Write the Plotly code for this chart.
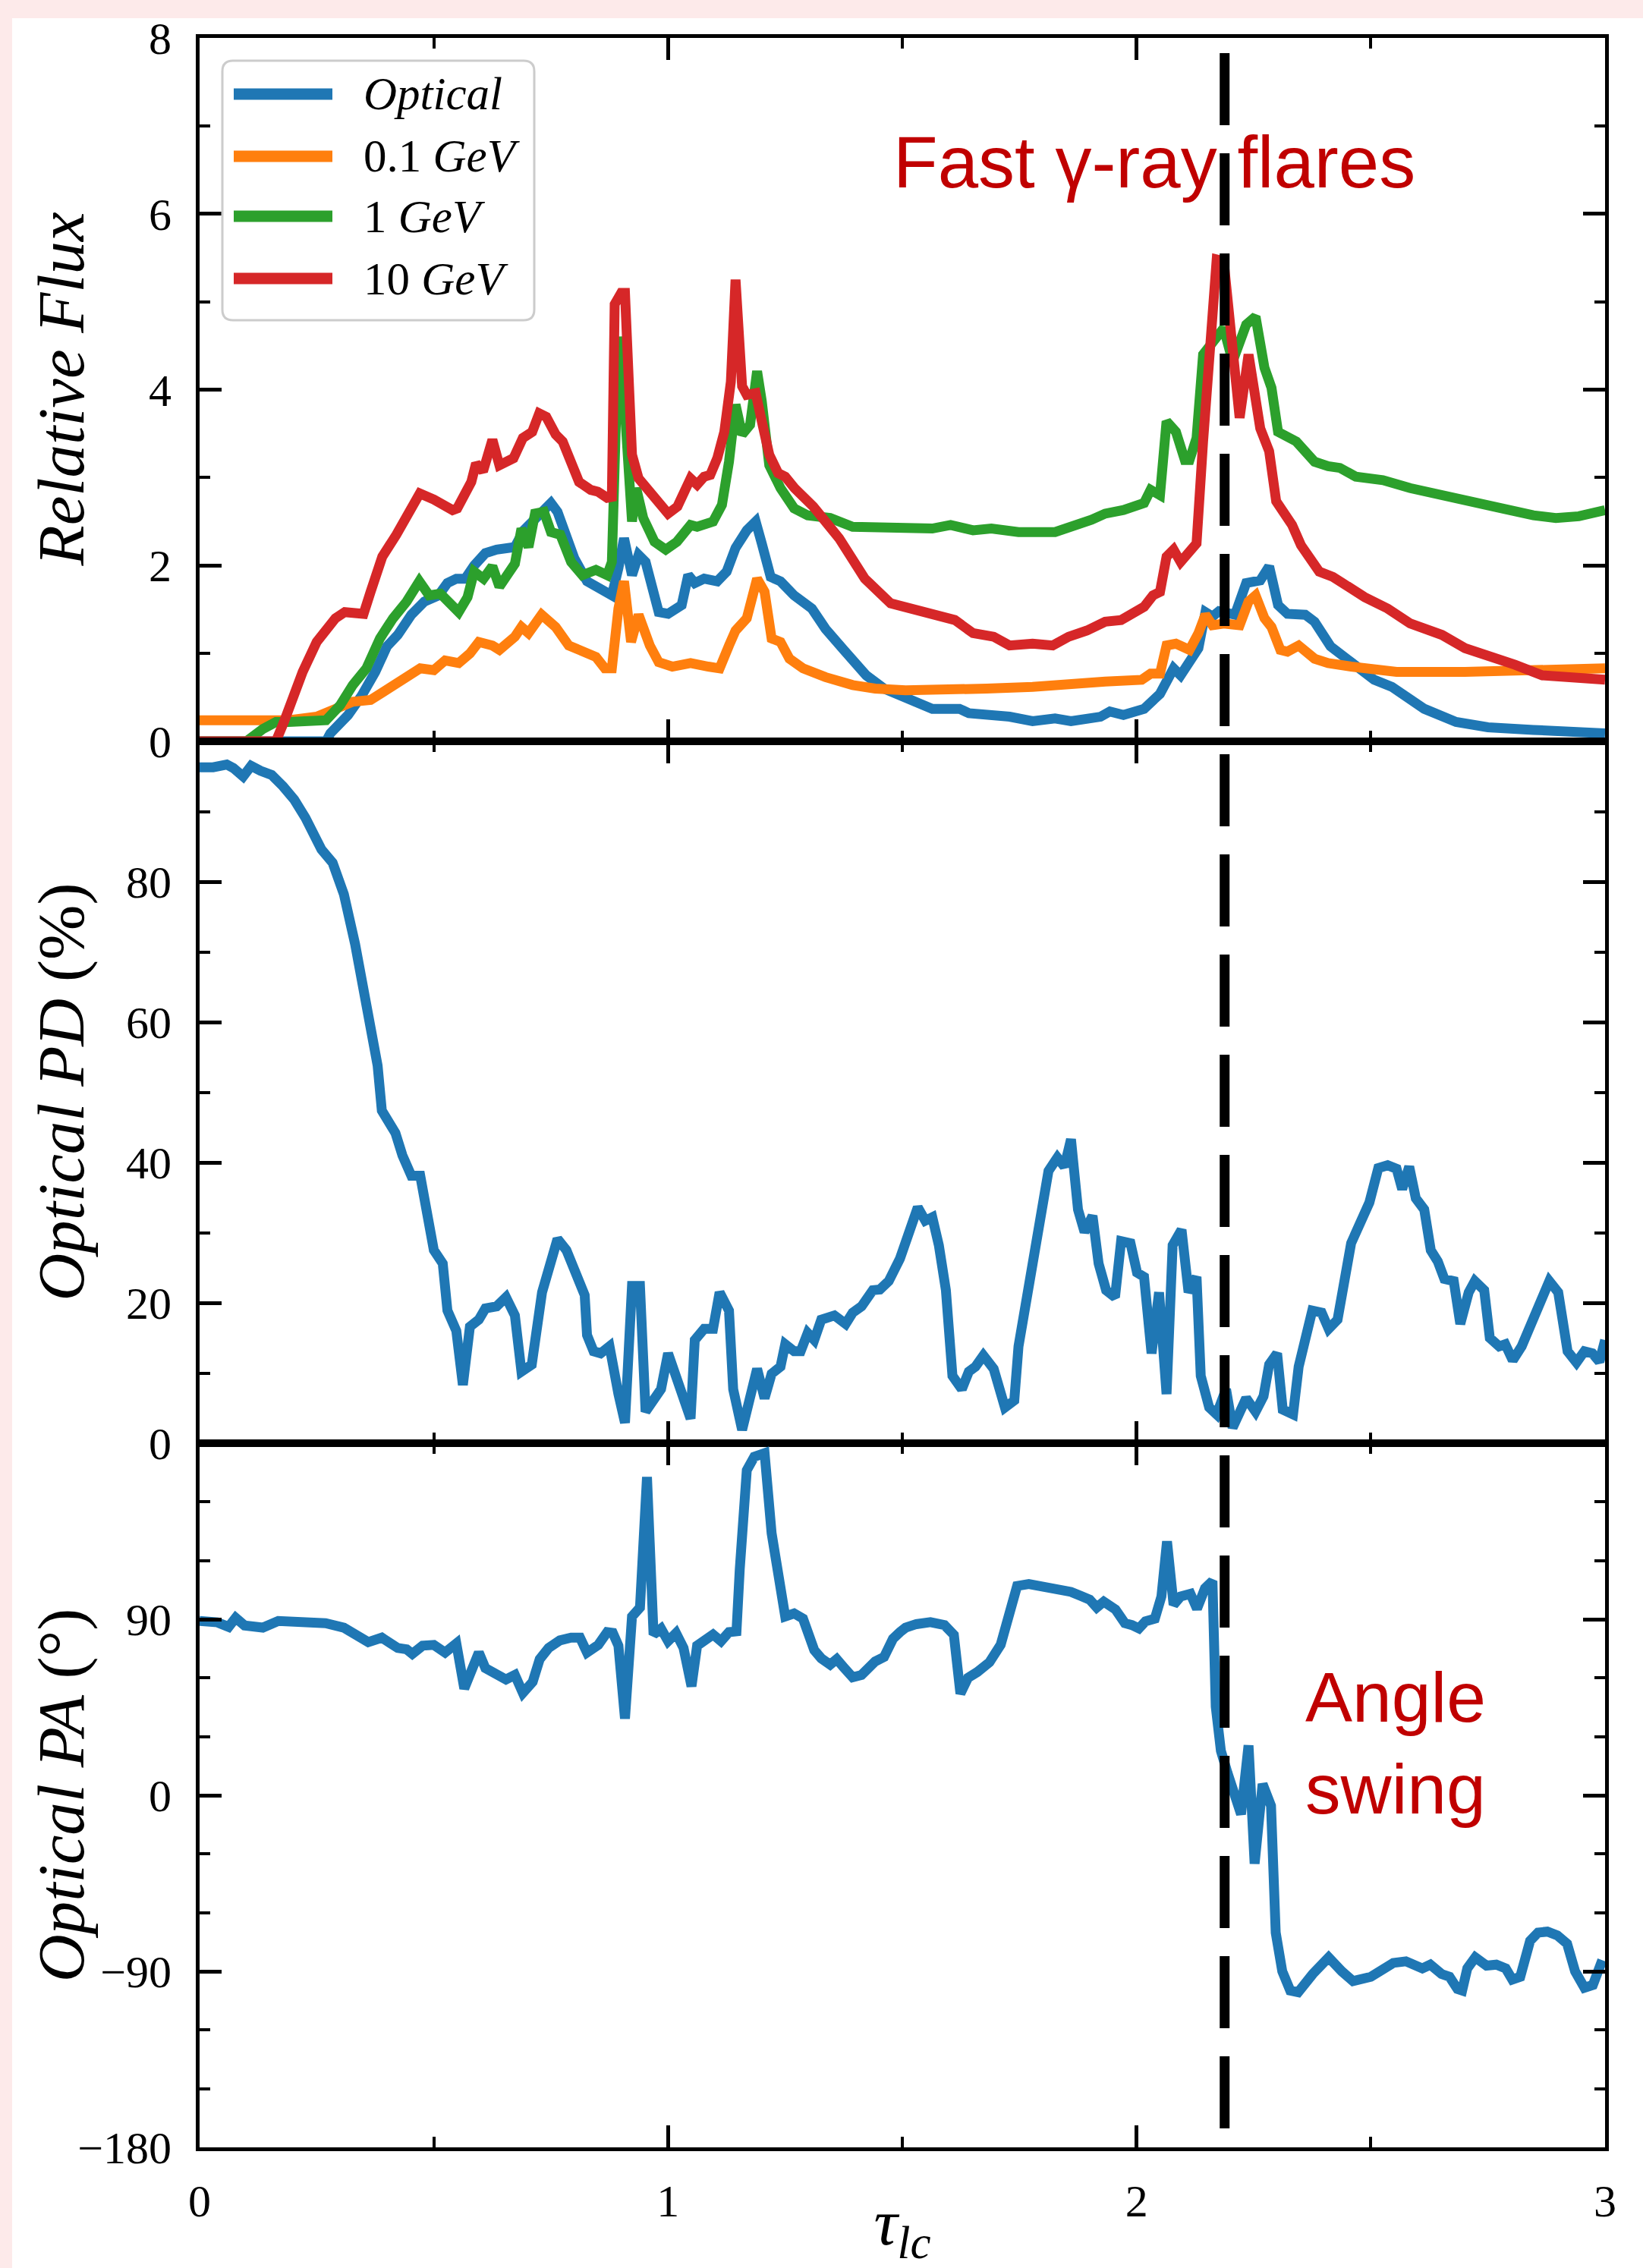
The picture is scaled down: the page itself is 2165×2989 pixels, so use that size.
import plotly.graph_objects as go
from plotly.subplots import make_subplots

# ---------------- data ----------------
optical_flux = [(0, 0), (0.27, 0), (0.279, 0.09), (0.317, 0.30), (0.346, 0.52), (0.375, 0.79), (0.40, 1.08),
                (0.423, 1.21), (0.452, 1.44), (0.48, 1.59), (0.51, 1.66), (0.529, 1.80), (0.548, 1.85), (0.567, 1.85),
                (0.586, 2.00), (0.61, 2.14), (0.634, 2.18), (0.654, 2.21), (0.673, 2.21), (0.692, 2.40), (0.711, 2.50),
                (0.73, 2.61), (0.75, 2.71), (0.764, 2.61), (0.779, 2.35), (0.80, 2.08), (0.827, 1.82), (0.855, 1.72),
                (0.88, 1.66), (0.894, 1.97), (0.906, 2.31), (0.923, 1.89), (0.937, 2.12), (0.952, 2.04), (0.966, 1.74),
                (0.98, 1.47), (1.0, 1.45), (1.029, 1.55), (1.043, 1.89), (1.057, 1.80), (1.077, 1.85), (1.105, 1.82),
                (1.125, 1.93), (1.144, 2.20), (1.168, 2.40), (1.187, 2.50), (1.20, 2.25), (1.219, 1.87), (1.24, 1.82),
                (1.269, 1.66), (1.307, 1.51), (1.336, 1.28), (1.375, 1.04), (1.423, 0.75), (1.461, 0.60), (1.50, 0.52),
                (1.525, 0.47), (1.564, 0.37), (1.622, 0.37), (1.642, 0.32), (1.729, 0.28), (1.778, 0.23), (1.826, 0.26),
                (1.86, 0.23), (1.923, 0.28), (1.943, 0.34), (1.972, 0.30), (2.016, 0.37), (2.05, 0.54), (2.079, 0.83),
                (2.094, 0.75), (2.118, 0.98), (2.132, 1.06), (2.147, 1.47), (2.162, 1.42), (2.176, 1.48), (2.21, 1.44),
                (2.234, 1.80), (2.264, 1.83), (2.283, 1.99), (2.302, 1.55), (2.322, 1.45), (2.36, 1.44), (2.38, 1.36),
                (2.414, 1.08), (2.458, 0.90), (2.507, 0.70), (2.545, 0.62), (2.614, 0.37), (2.682, 0.22), (2.75, 0.16),
                (2.847, 0.13), (3.0, 0.09)]

gev01_flux = [(0, 0.24), (0.19, 0.24), (0.25, 0.28), (0.29, 0.37), (0.327, 0.45), (0.365, 0.47), (0.404, 0.60),
              (0.442, 0.71), (0.471, 0.83), (0.50, 0.81), (0.524, 0.92), (0.553, 0.89), (0.577, 1.00), (0.596, 1.13),
              (0.625, 1.09), (0.64, 1.04), (0.673, 1.19), (0.687, 1.30), (0.702, 1.23), (0.73, 1.44), (0.76, 1.30),
              (0.788, 1.09), (0.817, 1.02), (0.846, 0.96), (0.865, 0.83), (0.88, 0.83), (0.894, 1.51), (0.906, 1.82),
              (0.921, 1.13), (0.937, 1.44), (0.961, 1.09), (0.98, 0.90), (1.009, 0.85), (1.048, 0.89), (1.086, 0.85),
              (1.11, 0.83), (1.13, 1.09), (1.144, 1.26), (1.168, 1.40), (1.182, 1.70), (1.19, 1.85), (1.206, 1.70),
              (1.221, 1.17), (1.24, 1.13), (1.259, 0.94), (1.288, 0.83), (1.336, 0.73), (1.394, 0.64), (1.442, 0.60),
              (1.507, 0.58), (1.583, 0.58), (1.68, 0.60), (1.778, 0.62), (1.875, 0.64), (1.933, 0.68), (2.011, 0.70),
              (2.03, 0.77), (2.05, 0.77), (2.064, 1.09), (2.084, 1.11), (2.113, 1.04), (2.132, 1.23), (2.147, 1.44),
              (2.162, 1.32), (2.186, 1.34), (2.22, 1.32), (2.239, 1.59), (2.254, 1.66), (2.273, 1.40), (2.288, 1.30),
              (2.307, 1.04), (2.322, 1.02), (2.346, 1.09), (2.38, 0.94), (2.409, 0.89), (2.458, 0.85), (2.507, 0.81),
              (2.555, 0.79), (2.701, 0.79), (2.847, 0.81), (3.0, 0.83)]

gev1_flux = [(0, 0), (0.10, 0), (0.135, 0.14), (0.163, 0.22), (0.19, 0.22), (0.27, 0.24), (0.30, 0.41), (0.327, 0.64),
             (0.356, 0.83), (0.385, 1.17), (0.413, 1.40), (0.442, 1.59), (0.469, 1.82), (0.49, 1.66), (0.514, 1.68),
             (0.553, 1.47), (0.572, 1.64), (0.586, 1.93), (0.606, 1.85), (0.625, 1.99), (0.64, 1.76), (0.673, 2.02),
             (0.687, 2.42), (0.702, 2.21), (0.716, 2.59), (0.735, 2.61), (0.75, 2.38), (0.77, 2.35), (0.793, 2.04),
             (0.817, 1.89), (0.846, 1.95), (0.87, 1.89), (0.88, 2.04), (0.894, 4.60), (0.905, 4.00), (0.923, 2.50),
             (0.932, 2.88), (0.947, 2.54), (0.971, 2.27), (0.995, 2.18), (1.019, 2.27), (1.048, 2.46), (1.062, 2.44),
             (1.096, 2.50), (1.115, 2.69), (1.13, 3.18), (1.144, 3.83), (1.158, 3.49), (1.175, 3.60), (1.19, 4.21),
             (1.20, 3.87), (1.216, 3.14), (1.24, 2.88), (1.269, 2.65), (1.298, 2.57), (1.346, 2.54), (1.394, 2.44),
             (1.486, 2.42), (1.564, 2.42), (1.603, 2.46), (1.651, 2.40), (1.69, 2.42), (1.748, 2.38), (1.826, 2.38),
             (1.875, 2.46), (1.904, 2.52), (1.933, 2.59), (1.972, 2.63), (2.016, 2.71), (2.03, 2.86), (2.05, 2.80),
             (2.064, 3.64), (2.084, 3.52), (2.103, 3.20), (2.113, 3.20), (2.128, 3.45), (2.142, 4.40), (2.166, 4.59),
             (2.186, 4.70), (2.205, 4.32), (2.234, 4.74), (2.254, 4.83), (2.273, 4.25), (2.288, 4.02), (2.302, 3.52),
             (2.341, 3.41), (2.38, 3.18), (2.409, 3.13), (2.434, 3.11), (2.468, 3.01), (2.526, 2.97), (2.584, 2.88),
             (2.682, 2.75), (2.779, 2.65), (2.847, 2.57), (2.895, 2.54), (2.944, 2.56), (3.0, 2.63)]

gev10_flux = [(0, 0), (0.163, 0), (0.18, 0.22), (0.22, 0.79), (0.25, 1.13), (0.29, 1.40), (0.31, 1.47), (0.35, 1.45),
              (0.365, 1.70), (0.39, 2.10), (0.42, 2.35), (0.44, 2.54), (0.47, 2.82), (0.50, 2.75), (0.54, 2.63),
              (0.55, 2.65), (0.58, 2.95), (0.59, 3.16), (0.605, 3.07), (0.625, 3.43), (0.64, 3.14), (0.67, 3.22),
              (0.69, 3.45), (0.71, 3.52), (0.725, 3.73), (0.74, 3.69), (0.76, 3.49), (0.775, 3.41), (0.79, 3.18),
              (0.81, 2.95), (0.835, 2.86), (0.85, 2.84), (0.87, 2.77), (0.88, 2.78), (0.886, 4.97), (0.90, 5.10),
              (0.908, 5.10), (0.923, 3.26), (0.937, 2.99), (0.96, 2.84), (1.0, 2.59), (1.02, 2.67), (1.048, 2.99),
              (1.062, 2.92), (1.077, 3.01), (1.09, 3.03), (1.105, 3.22), (1.12, 3.52), (1.134, 4.09), (1.144, 5.25),
              (1.153, 4.36), (1.158, 4.04), (1.168, 3.94), (1.187, 3.96), (1.20, 3.64), (1.216, 3.26), (1.235, 3.05),
              (1.25, 3.01), (1.27, 2.88), (1.31, 2.67), (1.365, 2.31), (1.42, 1.85), (1.475, 1.57), (1.51, 1.52),
              (1.544, 1.45), (1.612, 1.38), (1.651, 1.23), (1.695, 1.19), (1.729, 1.09), (1.778, 1.11), (1.821, 1.09),
              (1.855, 1.19), (1.894, 1.26), (1.933, 1.36), (1.967, 1.38), (2.016, 1.53), (2.035, 1.66), (2.05, 1.70),
              (2.064, 2.10), (2.079, 2.18), (2.094, 2.04), (2.128, 2.25), (2.142, 3.41), (2.157, 4.40), (2.171, 5.48),
              (2.186, 5.46), (2.205, 4.36), (2.22, 3.68), (2.239, 4.40), (2.264, 3.56), (2.283, 3.30), (2.298, 2.73),
              (2.332, 2.46), (2.351, 2.23), (2.39, 1.93), (2.419, 1.87), (2.487, 1.64), (2.536, 1.51), (2.584, 1.34),
              (2.652, 1.21), (2.701, 1.06), (2.75, 0.98), (2.808, 0.87), (2.866, 0.75), (2.944, 0.73), (3.0, 0.70)]

optical_pd = [(0, 96.3), (0.029, 96.3), (0.058, 96.7), (0.072, 96.2), (0.093, 95.0), (0.11, 96.5), (0.13, 95.8),
              (0.154, 95.2), (0.178, 93.6), (0.202, 91.7), (0.226, 89.1), (0.26, 84.6), (0.284, 82.7), (0.308, 78.2),
              (0.332, 71.1), (0.351, 64.1), (0.38, 53.8), (0.389, 47.4), (0.404, 45.5), (0.418, 44.2), (0.433, 41.0),
              (0.452, 38.1), (0.471, 38.1), (0.485, 32.7), (0.50, 27.5), (0.519, 25.6), (0.529, 18.9), (0.548, 16.0),
              (0.562, 8.3), (0.577, 16.6), (0.596, 17.6), (0.61, 19.2), (0.634, 19.5), (0.654, 20.8), (0.673, 18.2),
              (0.687, 10.2), (0.709, 11.2), (0.731, 21.5), (0.745, 24.7), (0.764, 29.1), (0.783, 27.5), (0.803, 24.3),
              (0.822, 21.1), (0.827, 15.4), (0.841, 13.1), (0.856, 12.8), (0.875, 13.8), (0.894, 7.0), (0.908, 2.9),
              (0.923, 22.4), (0.94, 22.4), (0.952, 4.5), (0.971, 6.7), (0.985, 7.7), (1.0, 12.8), (1.019, 9.0),
              (1.033, 6.7), (1.048, 3.5), (1.057, 14.7), (1.077, 16.3), (1.096, 16.3), (1.11, 21.5), (1.13, 18.9),
              (1.139, 7.7), (1.158, 1.9), (1.178, 7.7), (1.19, 10.6), (1.206, 6.4), (1.221, 9.9), (1.24, 10.9),
              (1.25, 14.1), (1.269, 13.1), (1.283, 13.1), (1.298, 15.7), (1.312, 14.7), (1.327, 17.6), (1.355, 18.2),
              (1.379, 17.0), (1.394, 18.6), (1.413, 19.5), (1.437, 21.8), (1.452, 21.9), (1.471, 23.1), (1.495, 26.3),
              (1.51, 29.5), (1.533, 33.6), (1.549, 31.7), (1.564, 32.2), (1.578, 28.2), (1.593, 21.8), (1.607, 9.6),
              (1.627, 7.7), (1.642, 10.2), (1.656, 10.9), (1.673, 12.5), (1.695, 10.6), (1.719, 5.1), (1.739, 6.1),
              (1.748, 13.8), (1.778, 25.6), (1.797, 33.3), (1.812, 38.8), (1.831, 40.7), (1.846, 39.4), (1.86, 43.3),
              (1.875, 33.3), (1.889, 30.1), (1.906, 32.4), (1.919, 25.6), (1.935, 21.8), (1.954, 20.8), (1.967, 28.8),
              (1.987, 28.5), (2.001, 24.3), (2.016, 23.7), (2.032, 12.8), (2.048, 21.5), (2.064, 7.0), (2.077, 28.2),
              (2.096, 30.4), (2.111, 21.5), (2.128, 23.7), (2.137, 9.6), (2.155, 5.1), (2.171, 4.1), (2.191, 7.7),
              (2.205, 2.2), (2.234, 6.4), (2.254, 4.5), (2.271, 6.7), (2.283, 11.2), (2.3, 12.8), (2.312, 4.8),
              (2.334, 4.1), (2.346, 10.9), (2.375, 18.9), (2.395, 18.6), (2.41, 16.3), (2.429, 17.6), (2.458, 28.5),
              (2.497, 34.3), (2.516, 39.2), (2.536, 39.6), (2.555, 39.1), (2.567, 36.2), (2.582, 39.4), (2.596, 34.9),
              (2.614, 33.3), (2.628, 27.5), (2.643, 25.9), (2.657, 23.4), (2.677, 23.1), (2.691, 17.0), (2.709, 21.5),
              (2.722, 23.1), (2.742, 21.8), (2.754, 15.0), (2.774, 13.8), (2.787, 14.1), (2.803, 11.8), (2.822, 13.8),
              (2.842, 17.0), (2.881, 23.1), (2.9, 21.5), (2.92, 13.1), (2.939, 11.5), (2.956, 13.1), (2.973, 12.8),
              (2.988, 11.6), (3.0, 14.7)]

optical_pa = [(0, 89.1), (0.038, 88.4), (0.062, 86.1), (0.077, 90.7), (0.096, 86.8), (0.135, 85.7), (0.168, 89.1),
              (0.269, 88.0), (0.308, 85.7), (0.332, 82.9), (0.36, 78.3), (0.389, 80.6), (0.423, 75.3), (0.442, 74.6),
              (0.454, 72.3), (0.476, 76.5), (0.50, 76.9), (0.524, 73.0), (0.548, 77.6), (0.565, 54.6), (0.596, 73.0),
              (0.61, 65.0), (0.654, 59.2), (0.673, 61.5), (0.69, 52.3), (0.711, 58.0), (0.726, 69.6), (0.745, 75.3),
              (0.769, 79.2), (0.793, 80.6), (0.812, 80.6), (0.827, 73.0), (0.851, 76.9), (0.87, 83.4), (0.882, 83.0),
              (0.894, 76.5), (0.908, 39.2), (0.923, 91.4), (0.94, 96.0), (0.955, 162.7), (0.969, 82.2), (0.985, 85.2),
              (1.0, 78.8), (1.017, 82.9), (1.033, 75.3), (1.05, 55.7), (1.062, 76.5), (1.096, 82.2), (1.113, 78.8),
              (1.13, 83.4), (1.146, 83.8), (1.153, 115.6), (1.168, 166.2), (1.184, 173.1), (1.206, 174.9),
              (1.221, 134.0), (1.25, 91.4), (1.269, 93.0), (1.288, 90.3), (1.312, 74.2), (1.327, 70.0), (1.346, 66.8),
              (1.36, 69.6), (1.375, 65.4), (1.394, 60.3), (1.413, 61.5), (1.442, 68.4), (1.461, 70.7), (1.48, 80.0),
              (1.495, 83.4), (1.507, 85.7), (1.53, 87.5), (1.56, 88.5), (1.59, 87.0), (1.61, 82.0), (1.624, 52.0),
              (1.64, 60.0), (1.66, 63.0), (1.686, 68.0), (1.71, 77.0), (1.73, 95.0), (1.745, 107.0), (1.77, 108.0),
              (1.80, 107.0), (1.83, 106.0), (1.86, 104.0), (1.88, 102.0), (1.90, 100.0), (1.915, 96.0), (1.93, 99.0),
              (1.955, 95.0), (1.975, 88.0), (1.99, 87.0), (2.005, 85.3), (2.019, 88.9), (2.039, 90.3), (2.053, 101.6),
              (2.065, 129.8), (2.079, 97.4), (2.094, 101.6), (2.115, 103.0), (2.129, 95.4), (2.146, 105.8),
              (2.162, 109.5), (2.169, 45.3), (2.18, 22.7), (2.194, 11.5), (2.211, -2.6), (2.223, -9.7), (2.239, 25.5),
              (2.252, -35.0), (2.269, 5.8), (2.287, -5.4), (2.297, -70.2), (2.311, -90.0), (2.328, -99.8),
              (2.345, -100.7), (2.376, -91.4), (2.41, -82.9), (2.438, -90.0), (2.462, -95.0), (2.5, -92.8),
              (2.548, -85.7), (2.575, -84.9), (2.61, -88.5), (2.627, -86.6), (2.651, -91.4), (2.668, -92.8),
              (2.685, -99.0), (2.695, -99.8), (2.706, -88.5), (2.723, -82.9), (2.747, -87.1), (2.768, -86.6),
              (2.788, -88.5), (2.802, -94.2), (2.819, -92.8), (2.84, -74.4), (2.857, -70.2), (2.877, -69.7),
              (2.898, -71.6), (2.919, -75.9), (2.936, -90.0), (2.956, -98.4), (2.974, -97.0), (2.994, -84.3)]

flux_series = [("<i>Optical</i>", optical_flux, "#1f77b4"),
               ("0.1 <i>GeV</i>", gev01_flux, "#ff7f0e"),
               ("1 <i>GeV</i>", gev1_flux, "#2ca02c"),
               ("10 <i>GeV</i>", gev10_flux, "#d62728")]

flare_tau = 2.188           # vertical dashed marker
x_ticks = [0, 1, 2, 3]
x_minor = [0.5, 1.5, 2.5]
flux_ticks, flux_minor = [0, 2, 4, 6, 8], [1, 3, 5, 7]
pd_ticks, pd_minor = [0, 20, 40, 60, 80], [10, 30, 50, 70, 90]
pa_ticks, pa_minor = [-180, -90, 0, 90], [-150, -120, -60, -30, 30, 60, 120, 150]
y_titles = ["<i>Relative Flux</i>", "<i>Optical PD</i> (%)", "<i>Optical PA</i> (°)"]

# ---------------- figure ----------------
W, H = 2165, 2989
ML, MR, MT, MB = 263, 50, 50, 159
PW, PH = W - ML - MR, H - MT - MB


def px_x(px):
    return (px - ML) / PW


def px_y(py):
    return (H - MB - py) / PH


fig = make_subplots(rows=3, cols=1, shared_xaxes=True, vertical_spacing=0,
                    row_heights=[927, 925, 928])

LW = 13
for name, pts, col in flux_series:
    xs, ys = zip(*pts)
    fig.add_trace(go.Scatter(x=xs, y=ys, mode="lines", name=name,
                             line=dict(color=col, width=LW), showlegend=False), row=1, col=1)
xs, ys = zip(*optical_pd)
fig.add_trace(go.Scatter(x=xs, y=ys, mode="lines", name="Optical PD",
                         line=dict(color="#1f77b4", width=LW), showlegend=False), row=2, col=1)
xs, ys = zip(*optical_pa)
fig.add_trace(go.Scatter(x=xs, y=ys, mode="lines", name="Optical PA",
                         line=dict(color="#1f77b4", width=LW), showlegend=False), row=3, col=1)

tickfont = dict(family="Liberation Serif", size=60, color="black")
titlefont = dict(family="Liberation Serif", size=87, color="black")
common = dict(showline=True, linecolor="black", linewidth=5, mirror="allticks",
              ticks="inside", ticklen=29, tickwidth=5, tickcolor="black",
              showgrid=False, zeroline=False, tickfont=tickfont, automargin=False)

for r in (1, 2, 3):
    fig.update_xaxes(range=[0, 3], tickmode="array", tickvals=x_ticks,
                     ticktext=[str(v) for v in x_ticks],
                     minor=dict(tickmode="array", tickvals=x_minor, ticks="inside", ticklen=14,
                                tickwidth=4, tickcolor="black"),
                     showticklabels=(r == 3), ticklabelstandoff=14, **common, row=r, col=1)

fig.update_xaxes(title=dict(text="<i>τ</i><sub><i>lc</i></sub>", font=titlefont, standoff=16), row=3, col=1)

fig.update_yaxes(range=[0, 8], tickmode="array", tickvals=flux_ticks,
                 ticktext=[str(v) for v in flux_ticks],
                 minor=dict(tickmode="array", tickvals=flux_minor, ticks="inside", ticklen=14, tickwidth=4,
                            tickcolor="black"),
                 ticklabelstandoff=20, **common, row=1, col=1)
fig.update_yaxes(range=[0, 100], tickmode="array", tickvals=pd_ticks,
                 ticktext=[str(v) for v in pd_ticks],
                 minor=dict(tickmode="array", tickvals=pd_minor, ticks="inside", ticklen=14, tickwidth=4,
                            tickcolor="black"),
                 ticklabelstandoff=20, **common, row=2, col=1)
fig.update_yaxes(range=[-180, 180], tickmode="array", tickvals=pa_ticks,
                 ticktext=["−180", "−90", "0", "90"],
                 minor=dict(tickmode="array", tickvals=pa_minor, ticks="inside", ticklen=14, tickwidth=4,
                            tickcolor="black"),
                 ticklabelstandoff=20, **common, row=3, col=1)

shapes = []
# white panel over pink page background
shapes.append(dict(type="rect", xref="paper", yref="paper", x0=px_x(16), x1=px_x(W + 5),
                   y0=px_y(H + 5), y1=px_y(24), fillcolor="white", line=dict(width=0), layer="below"))
# vertical dashed line across all panels
shapes.append(dict(type="line", xref="x", yref="paper", x0=flare_tau, x1=flare_tau,
                   y0=px_y(70), y1=px_y(2805), line=dict(color="black", width=13, dash="95px,37px"),
                   layer="above"))

# legend box (manual, matplotlib-like)
bx0, bx1, by0, by1, rad = 293, 704, 80, 422, 14
rx, ry = rad / PW, rad / PH
X0, X1, Y0, Y1 = px_x(bx0), px_x(bx1), px_y(by1), px_y(by0)
path = (f"M {X0 + rx},{Y0} L {X1 - rx},{Y0} Q {X1},{Y0} {X1},{Y0 + ry} "
        f"L {X1},{Y1 - ry} Q {X1},{Y1} {X1 - rx},{Y1} L {X0 + rx},{Y1} Q {X0},{Y1} {X0},{Y1 - ry} "
        f"L {X0},{Y0 + ry} Q {X0},{Y0} {X0 + rx},{Y0} Z")
shapes.append(dict(type="path", xref="paper", yref="paper", path=path,
                   fillcolor="rgba(255,255,255,0.85)", line=dict(color="#cccccc", width=3), layer="above"))

annotations = []
row_y = [124, 206, 285, 367]
for (name, pts, col), yy in zip(flux_series, row_y):
    shapes.append(dict(type="line", xref="paper", yref="paper", x0=px_x(308), x1=px_x(438),
                       y0=px_y(yy), y1=px_y(yy), line=dict(color=col, width=15), layer="above"))
    annotations.append(dict(xref="paper", yref="paper", x=px_x(477), y=px_y(yy), text=name,
                            showarrow=False, xanchor="left", yanchor="middle",
                            font=dict(family="Liberation Serif", size=61, color="black")))

# y-axis titles, aligned in one column as in the reference
panel_mid = [(50 + 977) / 2, (977 + 1902) / 2, (1902 + 2830) / 2]
for txt, ym in zip(y_titles, panel_mid):
    annotations.append(dict(xref="paper", yref="paper", x=px_x(80), y=px_y(ym), text=txt,
                            showarrow=False, textangle=-90, xanchor="center", yanchor="middle",
                            font=titlefont))

annotations.append(dict(xref="paper", yref="paper", x=px_x(1521), y=px_y(214),
                        text="Fast γ-ray flares", showarrow=False, xanchor="center", yanchor="middle",
                        font=dict(family="Liberation Sans", size=96, color="#c00000")))
annotations.append(dict(xref="paper", yref="paper", x=px_x(1839), y=px_y(2297),
                        text="Angle<br>swing", showarrow=False, xanchor="center", yanchor="middle",
                        align="center",
                        font=dict(family="Liberation Sans", size=93, color="#c00000")))

fig.update_layout(width=W, height=H, autosize=False,
                  margin=dict(l=ML, r=MR, t=MT, b=MB, pad=0),
                  paper_bgcolor="#fdeaea", plot_bgcolor="white",
                  shapes=shapes, annotations=annotations, showlegend=False)

fig.write_html("out.html")
